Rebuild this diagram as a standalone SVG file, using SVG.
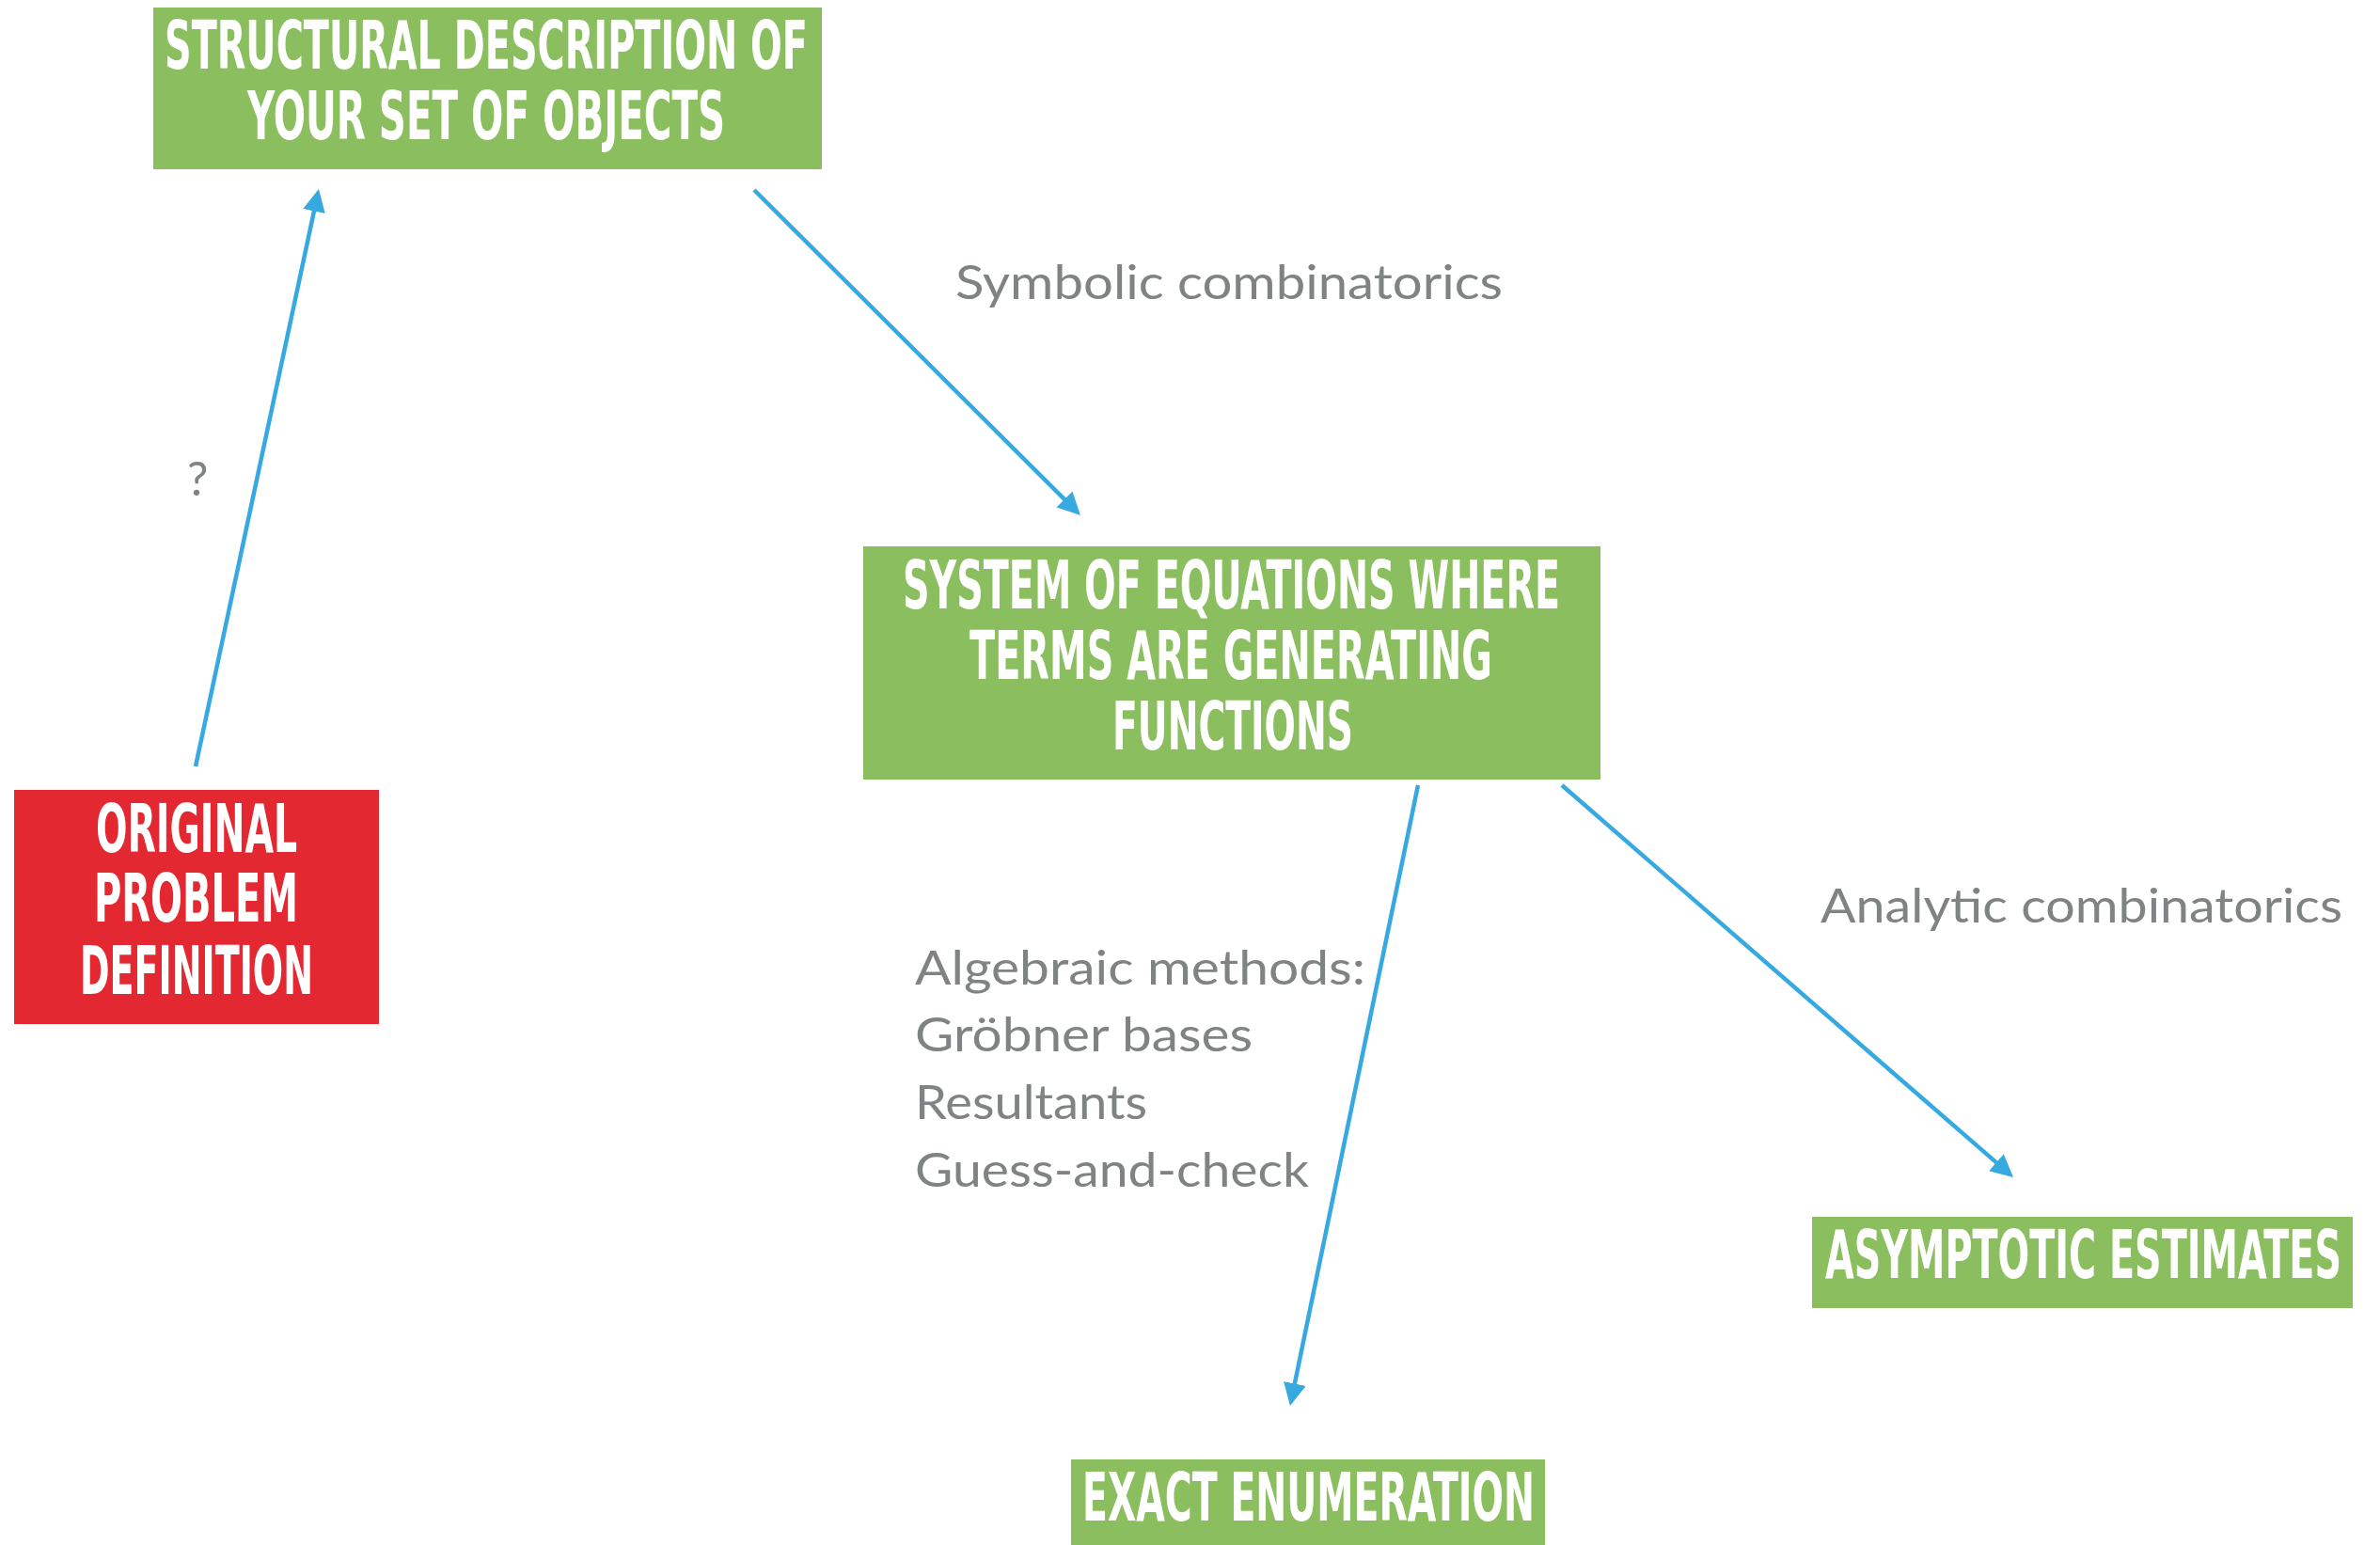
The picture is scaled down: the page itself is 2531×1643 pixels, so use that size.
<svg xmlns="http://www.w3.org/2000/svg" width="2531" height="1643" viewBox="0 0 2531 1643">
<style>
.box-g{fill:#8BBE5F}
.box-r{fill:#E32832}
.hd{font-family:"Liberation Sans Narrow","DejaVu Sans Condensed","Liberation Sans",sans-serif;font-weight:bold;font-size:72px;fill:#FFFFFF}
.lb{font-family:Lato,"Open Sans","Liberation Sans",sans-serif;font-size:50px;fill:#808383}
.arr{stroke:#36A9E0;stroke-width:4.5;fill:none}
</style>
<defs>
<marker id="ah" viewBox="0 0 24 24" refX="14" refY="12" markerWidth="24" markerHeight="24" markerUnits="userSpaceOnUse" orient="auto">
<path d="M0,0 L24,12 L0,24 z" fill="#36A9E0"/>
</marker>
</defs>
<rect width="2531" height="1643" fill="#FFFFFF"/>
<g id="connectors">
<line class="arr" x1="208" y1="815" x2="336.9" y2="210.8" marker-end="url(#ah)"/>
<line class="arr" x1="802" y1="202" x2="1141.9" y2="540.9" marker-end="url(#ah)"/>
<line class="arr" x1="1508" y1="835" x2="1374" y2="1485.2" marker-end="url(#ah)"/>
<line class="arr" x1="1661" y1="835" x2="2133.5" y2="1245.4" marker-end="url(#ah)"/>
</g>
<g id="node-structural">
<rect class="box-g" x="163" y="8" width="711" height="172"/>
<text class="hd" x="175" y="73" textLength="684" lengthAdjust="spacingAndGlyphs">STRUCTURAL DESCRIPTION OF</text>
<text class="hd" x="263" y="148" textLength="508" lengthAdjust="spacingAndGlyphs">YOUR SET OF OBJECTS</text>
</g>
<g id="node-system">
<rect class="box-g" x="918" y="581" width="784" height="248"/>
<text class="hd" x="960" y="647" textLength="699" lengthAdjust="spacingAndGlyphs">SYSTEM OF EQUATIONS WHERE</text>
<text class="hd" x="1031" y="722" textLength="556" lengthAdjust="spacingAndGlyphs">TERMS ARE GENERATING</text>
<text class="hd" x="1183" y="797" textLength="256" lengthAdjust="spacingAndGlyphs">FUNCTIONS</text>
</g>
<g id="node-original">
<rect class="box-r" x="15" y="840" width="388" height="249"/>
<text class="hd" x="102" y="906" textLength="214" lengthAdjust="spacingAndGlyphs">ORIGINAL</text>
<text class="hd" x="100" y="980" textLength="217" lengthAdjust="spacingAndGlyphs">PROBLEM</text>
<text class="hd" x="85" y="1057" textLength="248" lengthAdjust="spacingAndGlyphs">DEFINITION</text>
</g>
<g id="node-asymptotic">
<rect class="box-g" x="1927" y="1294" width="575" height="97"/>
<text class="hd" x="1941" y="1359" textLength="549" lengthAdjust="spacingAndGlyphs">ASYMPTOTIC ESTIMATES</text>
</g>
<g id="node-exact">
<rect class="box-g" x="1139" y="1552" width="504" height="91"/>
<text class="hd" x="1151" y="1617" textLength="481" lengthAdjust="spacingAndGlyphs">EXACT ENUMERATION</text>
</g>
<g id="labels">
<text class="lb" x="1016" y="318" textLength="582" lengthAdjust="spacingAndGlyphs">Symbolic combinatorics</text>
<text class="lb" x="1936" y="981" textLength="555" lengthAdjust="spacingAndGlyphs">Analytic combinatorics</text>
<text class="lb" x="199" y="527">?</text>
<text class="lb" x="973" y="1047" textLength="479" lengthAdjust="spacingAndGlyphs">Algebraic methods:</text>
<text class="lb" x="973" y="1118" textLength="359" lengthAdjust="spacingAndGlyphs">Gröbner bases</text>
<text class="lb" x="973" y="1190" textLength="247" lengthAdjust="spacingAndGlyphs">Resultants</text>
<text class="lb" x="973" y="1262" textLength="419" lengthAdjust="spacingAndGlyphs">Guess-and-check</text>
</g>
</svg>
